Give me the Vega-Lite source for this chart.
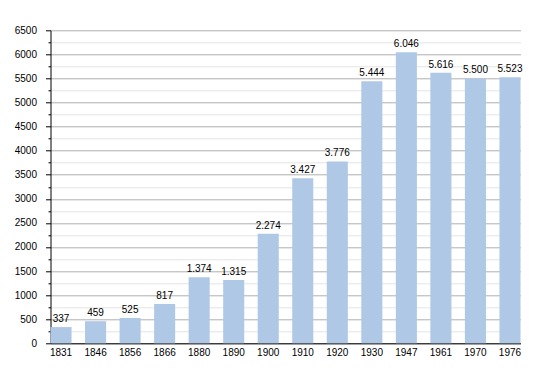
{
  "$schema": "https://vega.github.io/schema/vega-lite/v6.json",
  "width": 470,
  "height": 313,
  "autosize": {"type": "none"},
  "padding": {"left": 50.5, "top": 30.3, "right": 29.5, "bottom": 29.7},
  "background": "white",
  "config": {
    "view": {"stroke": null},
    "font": "Liberation Sans",
    "locale": {"number": {"decimal": ",", "thousands": ".", "grouping": [3], "currency": ["", ""]}}
  },
  "data": {
    "values": [
      {"year": "1831", "pop": 337},
      {"year": "1846", "pop": 459},
      {"year": "1856", "pop": 525},
      {"year": "1866", "pop": 817},
      {"year": "1880", "pop": 1374},
      {"year": "1890", "pop": 1315},
      {"year": "1900", "pop": 2274},
      {"year": "1910", "pop": 3427},
      {"year": "1920", "pop": 3776},
      {"year": "1930", "pop": 5444},
      {"year": "1947", "pop": 6046},
      {"year": "1961", "pop": 5616},
      {"year": "1970", "pop": 5500},
      {"year": "1976", "pop": 5523}
    ]
  },
  "encoding": {
    "x": {
      "field": "year",
      "type": "nominal",
      "sort": null,
      "scale": {"paddingInner": 0.39, "paddingOuter": 0},
      "axis": {
        "title": null,
        "labelAngle": 0,
        "ticks": false,
        "domainColor": "#000000",
        "domainWidth": 1,
        "labelFontSize": 10,
        "labelColor": "#000000",
        "labelPadding": 4,
        "grid": false
      }
    },
    "y": {
      "field": "pop",
      "type": "quantitative",
      "scale": {"domain": [0, 6500], "nice": false},
      "axis": {
        "title": null,
        "values": [0, 250, 500, 750, 1000, 1250, 1500, 1750, 2000, 2250, 2500, 2750, 3000, 3250, 3500, 3750, 4000, 4250, 4500, 4750, 5000, 5250, 5500, 5750, 6000, 6250, 6500],
        "labelExpr": "datum.value % 500 == 0 ? datum.value : ''",
        "format": "d",
        "grid": true,
        "gridColor": {"condition": {"test": "datum.value % 500 == 0", "value": "#b0b0b0"}, "value": "#e4e4e4"},
        "gridWidth": 1,
        "tickColor": "#000000",
        "tickSize": {"condition": {"test": "datum.value % 500 == 0", "value": 5}, "value": 2.5},
        "domainColor": "#000000",
        "labelFontSize": 10,
        "labelColor": "#000000",
        "labelPadding": 9,
        "labelBound": false,
        "labelOverlap": false
      }
    }
  },
  "layer": [
    {"mark": {"type": "bar", "color": "#afc8e6"}},
    {
      "mark": {"type": "text", "baseline": "alphabetic", "dy": -5, "fontSize": 10, "color": "#000000"},
      "encoding": {"text": {"field": "pop", "type": "quantitative", "format": ",d"}}
    }
  ]
}
